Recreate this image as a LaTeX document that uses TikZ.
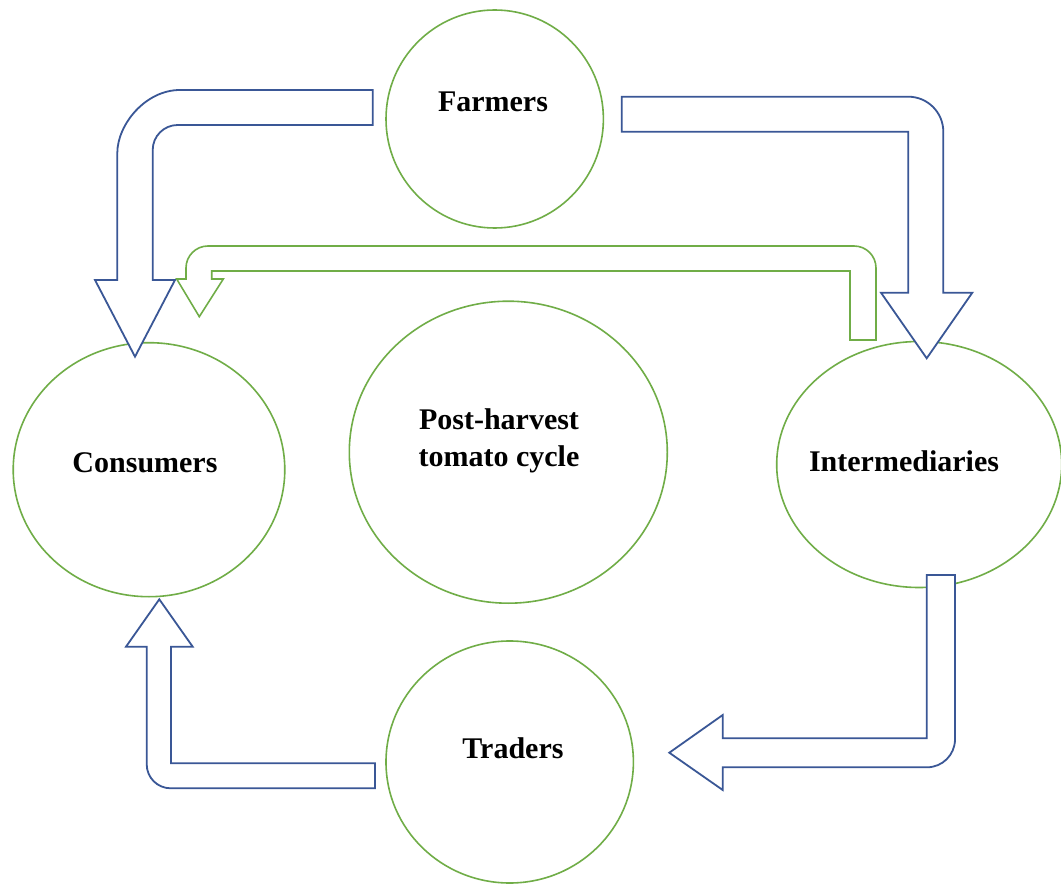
\documentclass[tikz,border=0pt]{standalone}
\usepackage{fontspec}
\setmainfont{Liberation Serif}
\usetikzlibrary{shapes.geometric}
\definecolor{ringgreen}{RGB}{112,173,71}
\definecolor{arrowblue}{RGB}{58,87,150}
\begin{document}
\begin{tikzpicture}[x=1pt,y=-1pt,
  ring/.style={draw=ringgreen,line width=1.6pt,ellipse,inner sep=0pt},
  lbl/.style={font=\fontsize{30}{37}\selectfont\bfseries,inner sep=0pt,anchor=base},
  blockarrow/.style={draw=arrowblue,line width=1.8pt,line join=miter,fill=white},
  greenarrow/.style={draw=ringgreen,line width=1.6pt,line join=miter,fill=white}]
\useasboundingbox (0,0) rectangle (1061,885);
\fill[white] (0,0) rectangle (1061,885);

% circles
\node[ring,minimum width=217.4pt,minimum height=218pt] (farmers) at (494.7,119) {};
\node[ring,minimum width=271.6pt,minimum height=254pt] (consumers) at (149,469.7) {};
\node[ring,minimum width=318pt,minimum height=302pt] (cycle) at (508.3,452.2) {};
\node[ring,minimum width=285pt,minimum height=246pt] (intermediaries) at (919.2,464.5) {};
\node[ring,minimum width=247.4pt,minimum height=242pt] (traders) at (509.7,762) {};

% labels
\node[lbl] (farmersText) at (493,112) {Farmers};
\node[lbl] (consumersText) at (145,472.5) {Consumers};
\node[lbl] (intermediariesText) at (904,471.5) {Intermediaries};
\node[lbl] (tradersText) at (513,758) {Traders};
\node[font=\fontsize{30}{37}\selectfont\bfseries,inner sep=0pt,align=center] (cycleText) at (499,441) {Post-harvest\\tomato cycle};

% Farmers -> Consumers
\draw[blockarrow] (372.7,90) -- (180,90) .. controls (145.2,90) and (117.3,124.8) .. (117.3,153)
  -- (117.3,280) -- (95,280) -- (135,356.7) -- (175,280) -- (152.7,280) -- (152.7,150)
  .. controls (152.7,136.2) and (163.9,125) .. (177.7,125) -- (372.7,125) -- cycle;

% Farmers -> Intermediaries
\draw[blockarrow] (621.7,96.7) -- (908.3,96.7) .. controls (927.6,96.7) and (943.3,112.4) .. (943.3,131.7)
  -- (943.3,292.7) -- (972.3,292.7) -- (926.7,358.3) -- (881,292.7) -- (908.3,292.7)
  -- (908.3,131.7) -- (621.7,131.7) -- cycle;

% Intermediaries -> Consumers (green)
\draw[greenarrow] (876,340) -- (876,268) .. controls (876,255.8) and (866.2,246) .. (854,246)
  -- (208,246) .. controls (195.8,246) and (186,255.8) .. (186,268)
  -- (186,279) -- (176.7,279) -- (199.3,316.7) -- (223.3,279) -- (211.7,279)
  -- (211.7,271) -- (850,271) -- (850,340) -- cycle;

% Intermediaries -> Traders
\draw[blockarrow] (926.7,575) -- (955,575) -- (955,739.3) .. controls (955,754.8) and (942.5,767.3) .. (927,767.3)
  -- (722.7,767.3) -- (722.7,790) -- (669.3,752.7) -- (722.7,715) -- (722.7,738.3)
  -- (926.7,738.3) -- cycle;

% Traders -> Consumers
\draw[blockarrow] (375,763.3) -- (375,788.3) -- (170.7,788.3) .. controls (157.4,788.3) and (146.7,777.6) .. (146.7,764.3)
  -- (146.7,646.7) -- (126,646.7) -- (159.3,599.3) -- (192.7,646.7) -- (171,646.7)
  -- (171,763.3) -- cycle;
\end{tikzpicture}
\end{document}
